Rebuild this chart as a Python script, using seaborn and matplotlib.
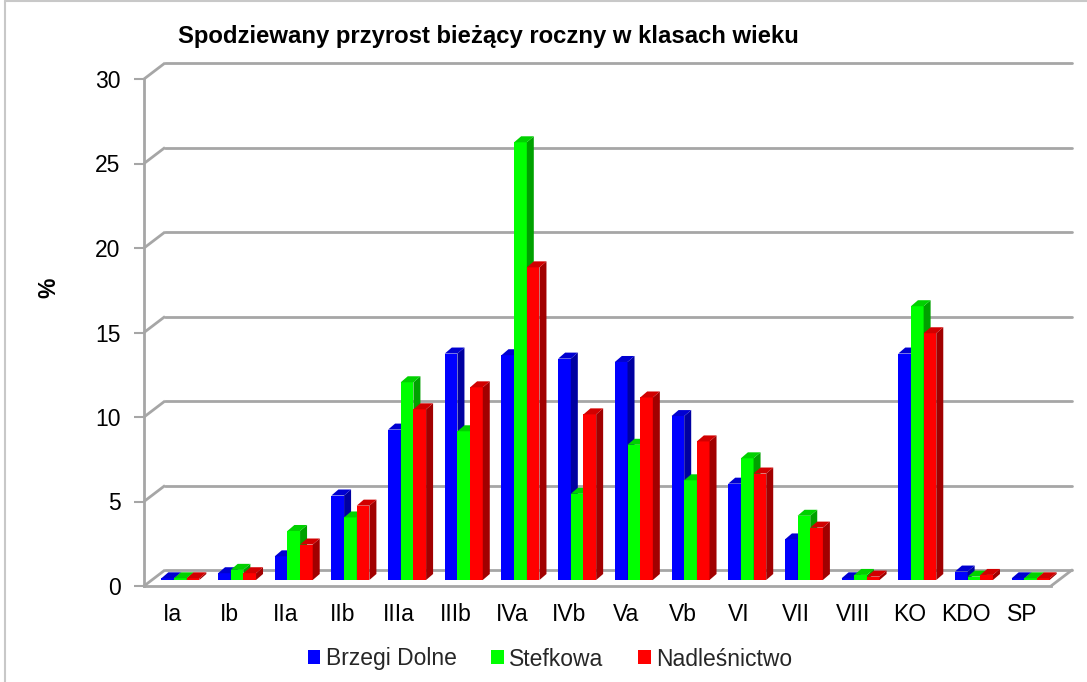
import numpy as np
import pandas as pd
import matplotlib
matplotlib.use("Agg")
import matplotlib.pyplot as plt
import seaborn as sns
from matplotlib.transforms import ScaledTranslation
from matplotlib.patches import Polygon, Patch
from matplotlib.lines import Line2D
import matplotlib.colors as mcolors

# ---- data ----
categories = ["Ia", "Ib", "IIa", "IIb", "IIIa", "IIIb", "IVa", "IVb",
              "Va", "Vb", "VI", "VII", "VIII", "KO", "KDO", "SP"]
brzegi_dolne = [0.1, 0.4, 1.4, 5.0, 8.9, 13.4, 13.3, 13.1,
                12.9, 9.7, 5.7, 2.4, 0.1, 13.4, 0.5, 0.1]
stefkowa = [0.1, 0.6, 2.9, 3.7, 11.7, 8.8, 25.9, 5.1,
            8.0, 5.9, 7.2, 3.8, 0.3, 16.2, 0.2, 0.1]
nadlesnictwo = [0.1, 0.4, 2.1, 4.4, 10.1, 11.4, 18.5, 9.8,
                10.8, 8.2, 6.3, 3.1, 0.2, 14.6, 0.3, 0.1]
series_names = ["Brzegi Dolne", "Stefkowa", "Nadleśnictwo"]
series_colors = ["#0000ff", "#00ff00", "#ff0000"]
yticks = [0, 5, 10, 15, 20, 25, 30]
title = "Spodziewany przyrost bieżący roczny w klasach wieku"

df = pd.DataFrame({
    "klasa": categories * 3,
    "seria": np.repeat(series_names, len(categories)),
    "wartosc": brzegi_dolne + stefkowa + nadlesnictwo,
})

sns.set_theme(style="white")
plt.rcParams["font.family"] = ["Liberation Sans", "DejaVu Sans"]

W, H = 1087, 682
fig = plt.figure(figsize=(W / 100, H / 100), dpi=100)
ax = fig.add_axes([144 / W, (H - 586) / H, 907 / W, 507 / H])

sns.barplot(data=df, x="klasa", y="wartosc", hue="seria", order=categories,
            hue_order=series_names, palette=series_colors, saturation=1,
            width=0.67, linewidth=0, ax=ax, legend=False)
ax.set_xlim(-0.5, len(categories) - 0.5)
ax.set_ylim(0, 30)

# pixel -> data conversions
px_x = 907 / len(categories)
px_y = 507 / 30.0

grid_col = "#a6a6a6"
# back wall offset
bw_dx, bw_dy = 21 / px_x, 16 / px_y
x_left, x_right = -0.5, len(categories) - 0.5
for t in yticks:
    ax.plot([x_left, x_left + bw_dx], [t, t + bw_dy], color=grid_col, lw=2,
            clip_on=False, zorder=1, solid_capstyle="butt")
    ax.plot([x_left + bw_dx, x_right + bw_dx], [t + bw_dy, t + bw_dy],
            color=grid_col, lw=2, clip_on=False, zorder=1)
# floor right edge
ax.plot([x_right, x_right + bw_dx], [0, bw_dy], color=grid_col, lw=2,
        clip_on=False, zorder=1)

# 3D look for bars
plane = ax.transData + ScaledTranslation(8 / 100, 6 / 100, fig.dpi_scale_trans)
dep_x, dep_y = 7 / px_x, 6 / px_y


def shade(c, f):
    r, g, b = mcolors.to_rgb(c)
    return (r * f, g * f, b * f)


bars = [p for p in ax.patches]
bars_sorted = sorted(bars, key=lambda p: p.get_x())
for i, p in enumerate(bars_sorted):
    z = 3 + i * 0.01
    x0, w, h = p.get_x(), p.get_width(), p.get_height()
    x1 = x0 + w
    col = p.get_facecolor()
    p.set_transform(plane)
    p.set_zorder(z)
    p.set_clip_on(False)
    side = Polygon([(x1, 0), (x1 + dep_x, dep_y), (x1 + dep_x, h + dep_y), (x1, h)],
                   closed=True, facecolor=shade(col, 0.63), edgecolor="none",
                   transform=plane, zorder=z, clip_on=False)
    top = Polygon([(x0, h), (x0 + dep_x, h + dep_y), (x1 + dep_x, h + dep_y), (x1, h)],
                  closed=True, facecolor=shade(col, 0.82), edgecolor="none",
                  transform=plane, zorder=z, clip_on=False)
    ax.add_patch(side)
    ax.add_patch(top)

# axes styling
for s in ["top", "right"]:
    ax.spines[s].set_visible(False)
for s in ["left", "bottom"]:
    ax.spines[s].set_color(grid_col)
    ax.spines[s].set_linewidth(2)
ax.set_yticks(yticks)
ax.set_yticklabels([str(t) for t in yticks], fontsize=16.5, color="black")
ax.tick_params(axis="y", left=True, length=7, width=1.5, color=grid_col, pad=10)
ax.tick_params(axis="x", bottom=False, length=0, pad=12.5, labelsize=16.5,
               labelcolor="black")
ax.set_xlabel("")
ax.set_ylabel("%", fontsize=16.5, fontweight="bold", color="black")
ax.yaxis.set_label_coords((60 - 144) / 907, (586 - 288) / 507)
ax.patch.set_alpha(0)

fig.text(178 / W, 1 - 37 / H, title, ha="left", va="center",
         fontsize=17.2, fontweight="bold", color="black")

handles = [Patch(facecolor=c, edgecolor="none", label=n)
           for c, n in zip(series_colors, series_names)]
fig.legend(handles=handles, loc="center", bbox_to_anchor=(550 / W, 1 - 659 / H),
           ncol=3, frameon=False, fontsize=16.5, handlelength=0.55,
           handleheight=0.55, handletextpad=0.25, columnspacing=1.5)

# outer chart border (left and top)
fig.add_artist(Line2D([5 / W, 5 / W], [0, 1 - 1 / H], transform=fig.transFigure,
                      color="#c8c8c8", lw=1.5))
fig.add_artist(Line2D([5 / W, 1], [1 - 1 / H, 1 - 1 / H], transform=fig.transFigure,
                      color="#c8c8c8", lw=1.5))

fig.savefig("out.png", dpi=100, facecolor="white")
